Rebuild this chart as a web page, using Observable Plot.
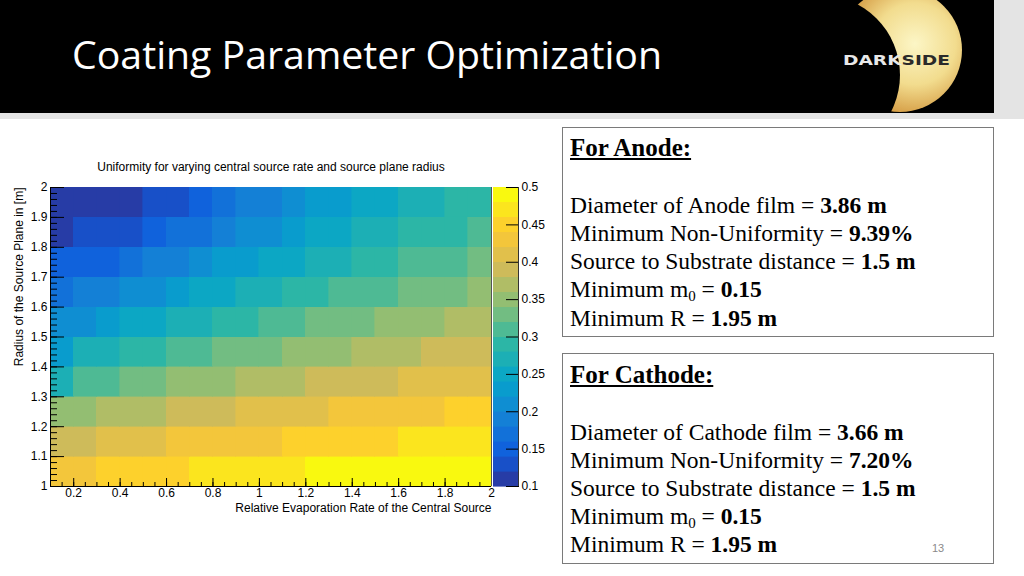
<!DOCTYPE html>
<html>
<head>
<meta charset="utf-8">
<script src="https://cdn.jsdelivr.net/npm/d3@7"></script>
<script src="https://cdn.jsdelivr.net/npm/@observablehq/plot@0.6"></script>
<style>
  html, body { margin: 0; padding: 0; background: #fff; }
  #page { position: relative; width: 1024px; height: 576px; overflow: hidden; background: #fff; }
  .abs { position: absolute; }
  .box { position: absolute; border: 1px solid #7a7a7a; box-sizing: border-box; }
  .line { position: absolute; left: 570px; font-family: "Liberation Serif", "Times New Roman", serif; font-size: 23.5px; line-height: 28px; color: #000; white-space: nowrap; }
  .head { font-weight: bold; text-decoration: underline; font-size: 25px; }
  b { font-weight: bold; }
  sub { font-size: 15px; vertical-align: -4px; line-height: 0; }
</style>
</head>
<body>
<div id="page">
  <div class="abs" style="left:0;top:0;width:1024px;height:119px;background:#e4e4e4"></div>
  <div class="abs" style="left:0;top:0;width:994px;height:113px;background:#000"></div>
  <svg class="abs" style="left:0;top:0" width="1024" height="120">
    <defs>
      <radialGradient id="moon" cx="0.62" cy="0.45" r="0.6">
        <stop offset="0" stop-color="#fcf6c6"/>
        <stop offset="0.55" stop-color="#f2dc8e"/>
        <stop offset="1" stop-color="#d3983f"/>
      </radialGradient>
      <mask id="cres">
        <rect x="800" y="0" width="194" height="113" fill="#fff"/>
        <circle cx="820" cy="75" r="80" fill="#000"/>
      </mask>
      <clipPath id="hdr"><rect x="0" y="0" width="994" height="113"/></clipPath>
    </defs>
    <g clip-path="url(#hdr)">
      <circle cx="900" cy="50" r="62" fill="url(#moon)" mask="url(#cres)"/>
    </g>
    <text x="843" y="65" font-family="DejaVu Sans, sans-serif" font-weight="bold" font-size="14.5" textLength="107" lengthAdjust="spacingAndGlyphs" fill="#e8e8e8">DARK<tspan fill="#2a2a2a">SIDE</tspan></text>
    <text x="72" y="69" font-family="Open Sans, sans-serif" font-size="39" fill="#fff" textLength="590" lengthAdjust="spacingAndGlyphs">Coating Parameter Optimization</text>
  </svg>

  <div id="chart" class="abs" style="left:0;top:140px"></div>
  <div id="cbar" class="abs" style="left:480px;top:140px"></div>

  <div class="box" style="left:562px;top:127px;width:432px;height:210px"></div>
  <div class="line head" style="top:134px">For Anode:</div>
  <div class="line" style="top:191px">Diameter of Anode film = <b>3.86 m</b></div>
  <div class="line" style="top:219px">Minimum Non-Uniformity = <b>9.39%</b></div>
  <div class="line" style="top:247px">Source to Substrate distance = <b>1.5 m</b></div>
  <div class="line" style="top:275px">Minimum m<sub>0</sub> = <b>0.15</b></div>
  <div class="line" style="top:304px">Minimum R = <b>1.95 m</b></div>

  <div class="box" style="left:562px;top:353px;width:432px;height:211px"></div>
  <div class="line head" style="top:361px">For Cathode:</div>
  <div class="line" style="top:418px">Diameter of Cathode film = <b>3.66 m</b></div>
  <div class="line" style="top:446px">Minimum Non-Uniformity = <b>7.20%</b></div>
  <div class="line" style="top:474px">Source to Substrate distance = <b>1.5 m</b></div>
  <div class="line" style="top:502px">Minimum m<sub>0</sub> = <b>0.15</b></div>
  <div class="line" style="top:530px">Minimum R = <b>1.95 m</b></div>
  <div class="abs" style="left:932px;top:542px;font-family:'Liberation Sans',Arial,sans-serif;font-size:11px;color:#8a8a8a">13</div>
</div>

<script>
// ---- Data ----
const rates = [0.15,0.25,0.35,0.45,0.55,0.65,0.75,0.85,0.95,1.05,1.15,1.25,1.35,1.45,1.55,1.65,1.75,1.85,1.95];
const radii = [1.05,1.15,1.25,1.35,1.45,1.55,1.65,1.75,1.85,1.95];
const binWidth = 0.1;
// one row per radius (bottom to top), one value per rate
const uniformity = [
  [0.43,0.43,0.45,0.45,0.45,0.45,0.47,0.47,0.47,0.47,0.47,0.49,0.49,0.49,0.49,0.49,0.49,0.49,0.49],
  [0.39,0.39,0.41,0.41,0.41,0.43,0.43,0.43,0.43,0.43,0.45,0.45,0.45,0.45,0.45,0.47,0.47,0.47,0.47],
  [0.35,0.35,0.37,0.37,0.37,0.39,0.39,0.39,0.41,0.41,0.41,0.41,0.43,0.43,0.43,0.43,0.43,0.45,0.45],
  [0.27,0.31,0.31,0.33,0.33,0.35,0.35,0.35,0.37,0.37,0.37,0.39,0.39,0.39,0.39,0.41,0.41,0.41,0.41],
  [0.23,0.27,0.27,0.29,0.29,0.31,0.31,0.33,0.33,0.33,0.35,0.35,0.35,0.37,0.37,0.37,0.39,0.39,0.39],
  [0.21,0.21,0.23,0.25,0.25,0.27,0.27,0.29,0.29,0.31,0.31,0.33,0.33,0.33,0.35,0.35,0.35,0.37,0.37],
  [0.17,0.19,0.19,0.21,0.21,0.23,0.25,0.25,0.27,0.27,0.29,0.29,0.31,0.31,0.31,0.33,0.33,0.33,0.35],
  [0.15,0.15,0.15,0.17,0.19,0.19,0.21,0.23,0.23,0.25,0.25,0.27,0.27,0.29,0.29,0.31,0.31,0.31,0.33],
  [0.11,0.13,0.13,0.13,0.15,0.17,0.17,0.19,0.21,0.21,0.23,0.25,0.25,0.27,0.27,0.29,0.29,0.29,0.31],
  [0.11,0.11,0.11,0.11,0.13,0.13,0.15,0.17,0.19,0.19,0.21,0.23,0.23,0.25,0.25,0.27,0.27,0.29,0.29]
];
const xTicks = [0.2,0.4,0.6,0.8,1,1.2,1.4,1.6,1.8,2];
const yTicks = [1,1.1,1.2,1.3,1.4,1.5,1.6,1.7,1.8,1.9,2];
const zTicks = [0.1,0.15,0.2,0.25,0.3,0.35,0.4,0.45,0.5];
const zRange = [0.1, 0.5];
const nContours = 20;
const title = "Uniformity for varying central source rate and source plane radius";
const xLabel = "Relative Evaporation Rate of the Central Source";
const yLabel = "Radius of the Source Plane in [m]";

// ---- palette (ROOT kBird) ----
const birdStops = ["#352a87","#0f5cdd","#1481d6","#06a4ca","#2eb7a4","#87bf77","#d1bb59","#fec932","#f9fb0e"];
const bird = d3.piecewise(d3.interpolateRgb, birdStops);
const step = (zRange[1] - zRange[0]) / nContours;
const edges = d3.range(nContours + 1).map(i => +(zRange[0] + i * step).toFixed(4));
const thresholds = edges.slice(1, -1);
const palette = d3.range(nContours).map(i => bird((i + 0.9) / nContours));
const colorScale = {type: "threshold", domain: thresholds, range: palette};

const cells = uniformity.flatMap((row, i) => row.map((v, j) => ({x: rates[j], y: radii[i], v})));
const fmt = d => String(+d.toFixed(2));
const minorX = d3.range(0.1, 2.0001, 0.05).map(d => +d.toFixed(2));
const minorY = d3.range(1, 2.0001, 0.02).map(d => +d.toFixed(2));
const font = "'Liberation Sans', Arial, Helvetica, sans-serif";

const chart = Plot.plot({
  width: 500, height: 380,
  marginLeft: 50, marginRight: 9, marginTop: 47, marginBottom: 34,
  x: {domain: [0.1, 2]},
  y: {domain: [1, 2]},
  color: colorScale,
  style: {fontFamily: font, fontSize: "12px", background: "transparent", overflow: "visible", color: "#000"},
  marks: [
    Plot.rect(cells, {
      x1: d => d.x - binWidth / 2, x2: d => d.x + binWidth / 2,
      y1: d => d.y - binWidth / 2, y2: d => d.y + binWidth / 2,
      fill: "v", stroke: "v", strokeWidth: 0.6, shapeRendering: "crispEdges"
    }),
    Plot.axisX({ticks: xTicks, tickSize: 0, tickPadding: 2, tickFormat: fmt, label: null, fontSize: 12}),
    Plot.axisX({ticks: xTicks, tickSize: -8, tickFormat: () => "", label: null}),
    Plot.axisX({ticks: minorX, tickSize: -4, tickFormat: () => "", label: null}),
    Plot.axisY({ticks: yTicks, tickSize: 0, tickPadding: 3, tickFormat: fmt, label: null, fontSize: 12}),
    Plot.axisY({ticks: yTicks, tickSize: -14, tickFormat: () => "", label: null}),
    Plot.axisY({ticks: minorY, tickSize: -7, tickFormat: () => "", label: null}),
    Plot.ruleY([1], {stroke: "#000"}),
    Plot.ruleX([0.1], {stroke: "#000"}),
    Plot.ruleX([2], {stroke: "#555"}),
    Plot.text([title], {frameAnchor: "top", dy: -25, fontSize: 12, fill: "#000"}),
    Plot.text([xLabel], {frameAnchor: "bottom-right", dy: 25, textAnchor: "end", fontSize: 12, fill: "#000"}),
    Plot.text([yLabel], {frameAnchor: "top-left", dx: -36, rotate: -90, textAnchor: "end", fontSize: 12, fill: "#000"})
  ]
});
document.getElementById("chart").appendChild(chart);

const bands = d3.range(nContours).map(i => ({y1: edges[i], y2: edges[i + 1], v: (edges[i] + edges[i + 1]) / 2}));
const cbar = Plot.plot({
  width: 70, height: 380,
  marginLeft: 13, marginRight: 32, marginTop: 47, marginBottom: 34,
  x: {domain: [0, 1], axis: null},
  y: {domain: zRange},
  color: colorScale,
  style: {fontFamily: font, fontSize: "12px", background: "transparent", overflow: "visible", color: "#000"},
  marks: [
    Plot.rect(bands, {x1: 0, x2: 1, y1: "y1", y2: "y2", fill: "v", stroke: "v", strokeWidth: 0.6, shapeRendering: "crispEdges"}),
    Plot.axisY({anchor: "right", ticks: zTicks, tickSize: 0, tickPadding: 3, tickFormat: fmt, label: null, fontSize: 12}),
    Plot.axisY({anchor: "right", ticks: zTicks, tickSize: -13, tickFormat: () => "", label: null}),
    Plot.ruleX([1], {stroke: "#333"})
  ]
});
document.getElementById("cbar").appendChild(cbar);
</script>
</body>
</html>
